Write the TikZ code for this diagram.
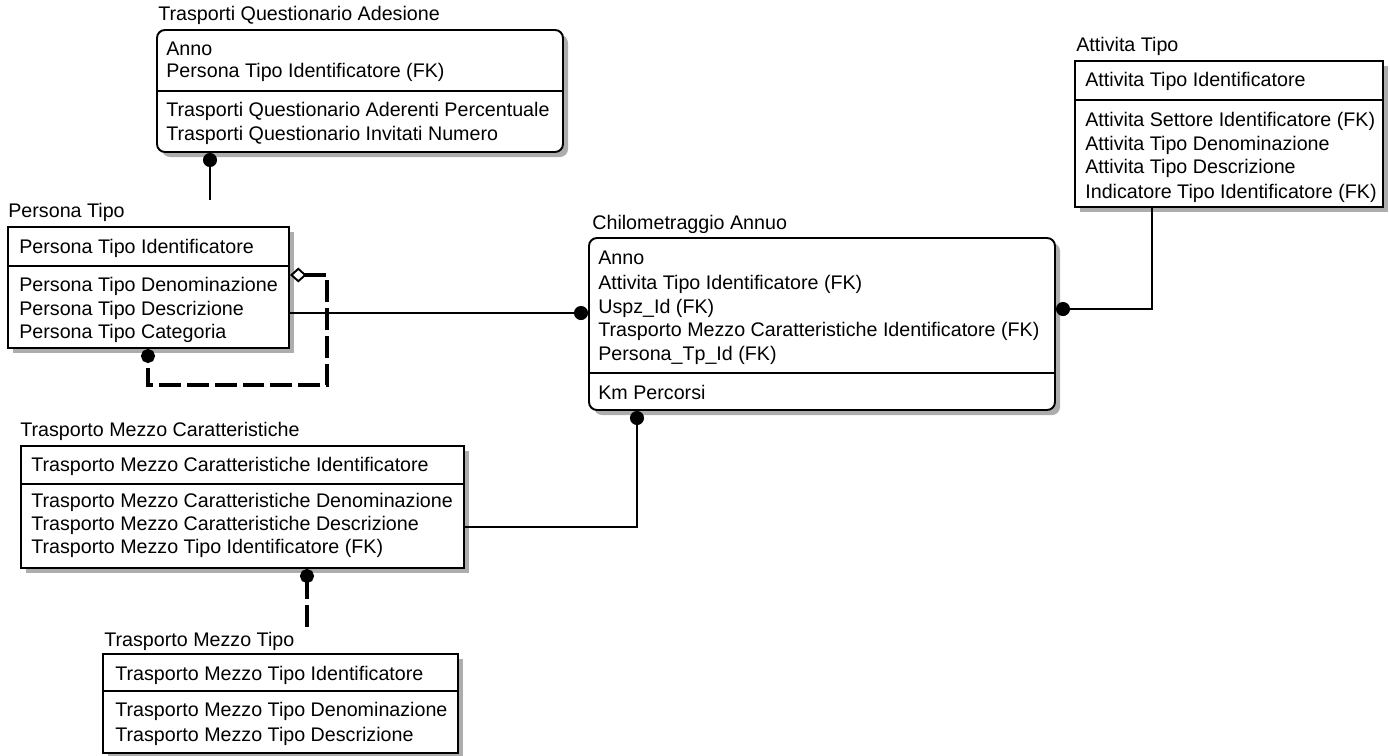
\documentclass[tikz,border=0pt]{standalone}
\usepackage{fontspec}
\setmainfont{Liberation Sans}
\usetikzlibrary{fit,shadows,arrows.meta,calc}
\newcommand\erfont{\fontsize{11.2}{13}\selectfont}
\tikzset{
  entity/.style={draw, line width=1.1pt, fill=white, inner sep=0pt,
    drop shadow={shadow xshift=0.1cm, shadow yshift=-0.1cm, fill=black!32, opacity=1}},
  dependent/.style={entity, rounded corners=0.16cm},
  etitle/.style={anchor=base west, inner sep=0pt, font=\erfont},
  erow/.style={anchor=base west, inner sep=0pt, font=\erfont},
  divider/.style={line width=1.1pt},
  rel/.style={line width=1.1pt},
  nonid/.style={line width=1.8pt, dash pattern=on 12.5pt off 3.4pt},
  tmtdash/.style={line width=1.8pt, dash pattern=on 10pt off 3.4pt on 14pt off 3.4pt},
  dotstart/.style={{Circle[length=8pt,width=8pt]}-},
  dotend/.style={-{Circle[length=8pt,width=8pt]}},
  recursive/.style={{Diamond[open,length=9.5pt,width=8.5pt,line width=1.1pt]}-{Circle[length=8pt,width=8pt]}},
}
\begin{document}
\begin{tikzpicture}[x=0.02cm,y=-0.02cm]
\useasboundingbox (0,0) rectangle (1390,755);

% ---------- Trasporti Questionario Adesione ----------
\node[etitle] (tqaT) at (158,20) {Trasporti Questionario Adesione};
\node[dependent, fit={(157,30)(563,152)}] (tqa) {};
\draw[divider] (tqa.west |- 0,91) -- (tqa.east |- 0,91);
\node[erow] (tqa1) at (166,55) {Anno};
\node[erow] (tqa2) at (166,77) {Persona Tipo Identificatore (FK)};
\node[erow] (tqa3) at (166,116) {Trasporti Questionario Aderenti Percentuale};
\node[erow] (tqa4) at (166,140) {Trasporti Questionario Invitati Numero};

% ---------- Persona Tipo ----------
\node[etitle] (ptT) at (8,217) {Persona Tipo};
\node[entity, fit={(8,227)(289,348)}] (pt) {};
\draw[divider] (pt.west |- 0,266) -- (pt.east |- 0,266);
\node[erow] (pt1) at (19,253) {Persona Tipo Identificatore};
\node[erow] (pt2) at (19,291) {Persona Tipo Denominazione};
\node[erow] (pt3) at (19,315) {Persona Tipo Descrizione};
\node[erow] (pt4) at (19,338) {Persona Tipo Categoria};

% ---------- Chilometraggio Annuo ----------
\node[etitle] (chaT) at (592,229) {Chilometraggio Annuo};
\node[dependent, fit={(589,238)(1055,410)}] (cha) {};
\draw[divider] (cha.west |- 0,373) -- (cha.east |- 0,373);
\node[erow] (cha1) at (598,264) {Anno};
\node[erow] (cha2) at (598,289) {Attivita Tipo Identificatore (FK)};
\node[erow] (cha3) at (598,313) {Uspz\_Id (FK)};
\node[erow] (cha4) at (598,336) {Trasporto Mezzo Caratteristiche Identificatore (FK)};
\node[erow] (cha5) at (598,360) {Persona\_Tp\_Id (FK)};
\node[erow] (cha6) at (598,399) {Km Percorsi};

% ---------- Attivita Tipo ----------
\node[etitle] (atT) at (1076,51) {Attivita Tipo};
\node[entity, fit={(1075,61)(1383,207)}] (at) {};
\draw[divider] (at.west |- 0,100) -- (at.east |- 0,100);
\node[erow] (at1) at (1085,86) {Attivita Tipo Identificatore};
\node[erow] (at2) at (1085,126) {Attivita Settore Identificatore (FK)};
\node[erow] (at3) at (1085,150) {Attivita Tipo Denominazione};
\node[erow] (at4) at (1085,173) {Attivita Tipo Descrizione};
\node[erow] (at5) at (1085,198) {Indicatore Tipo Identificatore (FK)};

% ---------- Trasporto Mezzo Caratteristiche ----------
\node[etitle] (tmcT) at (20,436) {Trasporto Mezzo Caratteristiche};
\node[entity, fit={(21,446)(464,568)}] (tmc) {};
\draw[divider] (tmc.west |- 0,484) -- (tmc.east |- 0,484);
\node[erow] (tmc1) at (31,471) {Trasporto Mezzo Caratteristiche Identificatore};
\node[erow] (tmc2) at (31,507) {Trasporto Mezzo Caratteristiche Denominazione};
\node[erow] (tmc3) at (31,530) {Trasporto Mezzo Caratteristiche Descrizione};
\node[erow] (tmc4) at (31,553) {Trasporto Mezzo Tipo Identificatore (FK)};

% ---------- Trasporto Mezzo Tipo ----------
\node[etitle] (tmtT) at (104,646) {Trasporto Mezzo Tipo};
\node[entity, fit={(103,654)(458,753)}] (tmt) {};
\draw[divider] (tmt.west |- 0,691) -- (tmt.east |- 0,691);
\node[erow] (tmt1) at (115,680) {Trasporto Mezzo Tipo Identificatore};
\node[erow] (tmt2) at (115,716) {Trasporto Mezzo Tipo Denominazione};
\node[erow] (tmt3) at (115,741) {Trasporto Mezzo Tipo Descrizione};

% ---------- Relationships ----------
\coordinate (tqaEnd) at (210,200);
\draw[rel, dotstart] (tqa.south -| tqaEnd) -- (tqaEnd);

\coordinate (ptRel) at (0,313);
\draw[rel, dotend] (pt.east |- ptRel) -- (cha.west |- ptRel);

\coordinate (recA) at (0,275);
\coordinate (recB) at (327,385);
\coordinate (recC) at (148,0);
\draw[nonid, recursive] (pt.east |- recA) -| (recB) -| (pt.south -| recC);

\coordinate (atRel) at (1152,309);
\draw[rel, dotstart] (cha.east |- atRel) -| (at.south -| atRel);

\coordinate (tmcRel) at (637,527);
\draw[rel, dotstart] (cha.south -| tmcRel) |- (tmc.east |- tmcRel);

\coordinate (tmtEnd) at (307,627);
\draw[tmtdash, dotstart] (tmc.south -| tmtEnd) -- (tmtEnd);
\end{tikzpicture}
\end{document}
